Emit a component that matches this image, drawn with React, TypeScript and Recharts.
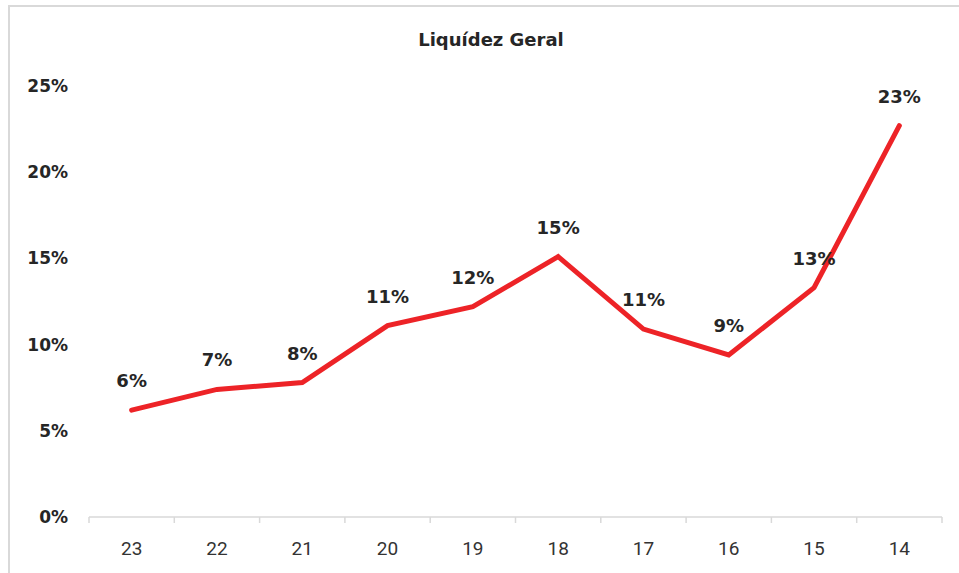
import { LineChart, Line, XAxis, YAxis, LabelList } from "recharts";

const CHART_W = 959;
const CHART_H = 573;
const MARGIN = { top: 86, right: 17, left: 0, bottom: 0 };
const Y_AXIS_W = 89;

const years = ["23", "22", "21", "20", "19", "18", "17", "16", "15", "14"];
const liquidez = [6.2, 7.4, 7.8, 11.1, 12.2, 15.1, 10.9, 9.4, 13.3, 22.7];
const yTicks = [0, 5, 10, 15, 20, 25];

const data = years.map((y, i) => ({ year: y, value: liquidez[i] }));

const LINE_COLOR = "#ED2327";
const TEXT_COLOR = "#262626";
const AXIS_COLOR = "#D9D9D9";
const LABEL_FONT = "'DejaVu Sans', sans-serif";

const BAND = (CHART_W - Y_AXIS_W - MARGIN.left - MARGIN.right) / years.length;

// eslint-disable-next-line @typescript-eslint/no-explicit-any
function XTick(props: any) {
  const { x, y, payload, index } = props;
  const left = x - BAND / 2;
  const right = x + BAND / 2;
  return (
    <g>
      <line x1={left} y1={y} x2={left} y2={y + 6} stroke={AXIS_COLOR} strokeWidth={1.5} />
      {index === years.length - 1 && (
        <line x1={right} y1={y} x2={right} y2={y + 6} stroke={AXIS_COLOR} strokeWidth={1.5} />
      )}
      <text
        x={x}
        y={y + 38}
        textAnchor="middle"
        fontFamily="Roboto, sans-serif"
        fontSize={19}
        fill="#333333"
      >
        {payload.value}
      </text>
    </g>
  );
}

// eslint-disable-next-line @typescript-eslint/no-explicit-any
function ValueLabel(props: any) {
  const { x, y, value } = props;
  return (
    <text
      x={x}
      y={y - 23}
      textAnchor="middle"
      fontFamily={LABEL_FONT}
      fontWeight="bold"
      fontSize={18}
      fill={TEXT_COLOR}
    >
      {Math.round(value)}%
    </text>
  );
}

export default function App() {
  return (
    <div style={{ position: "absolute", left: 0, top: 0, width: CHART_W, height: CHART_H, background: "#fff", overflow: "hidden" }}>
      <div
        style={{
          position: "absolute",
          left: 8,
          top: 5,
          width: 975,
          height: 600,
          borderLeft: `2px solid ${AXIS_COLOR}`,
          borderTop: `2px solid ${AXIS_COLOR}`,
        }}
      />
      <div
        style={{
          position: "absolute",
          left: 0,
          top: 29,
          width: 982,
          textAlign: "center",
          fontFamily: LABEL_FONT,
          fontWeight: "bold",
          fontSize: 18,
          color: TEXT_COLOR,
        }}
      >
        Liquídez Geral
      </div>
      <div style={{ position: "absolute", left: 0, top: 0 }}>
        <LineChart width={CHART_W} height={CHART_H} data={data} margin={MARGIN}>
          <XAxis
            dataKey="year"
            height={56}
            padding={{ left: BAND / 2, right: BAND / 2 }}
            axisLine={{ stroke: AXIS_COLOR, strokeWidth: 1.5 }}
            tickLine={false}
            tickSize={0}
            tickMargin={0}
            interval={0}
            tick={<XTick />}
          />
          <YAxis
            width={Y_AXIS_W}
            domain={[0, 25]}
            ticks={yTicks}
            axisLine={false}
            tickLine={false}
            tickSize={0}
            tickMargin={21}
            tickFormatter={(v) => `${v}%`}
            tick={{ fontFamily: LABEL_FONT, fontWeight: "bold", fontSize: 17, fill: TEXT_COLOR }}
          />
          <Line
            type="linear"
            dataKey="value"
            stroke={LINE_COLOR}
            strokeWidth={5}
            strokeLinecap="round"
            dot={false}
            activeDot={false}
            isAnimationActive={false}
          >
            <LabelList dataKey="value" content={<ValueLabel />} />
          </Line>
        </LineChart>
      </div>
    </div>
  );
}
